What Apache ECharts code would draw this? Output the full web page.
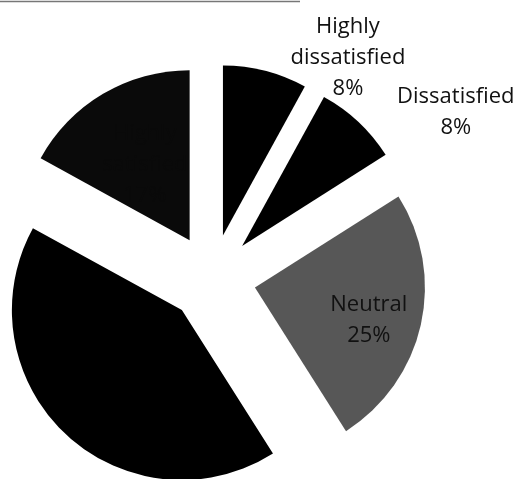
<!DOCTYPE html>
<html lang="en">
<head>
	<meta charset="UTF-8">
	<title>Satisfaction pie</title>
	<script src="https://cdn.jsdelivr.net/npm/echarts@6/dist/echarts.min.js"></script>
	<style>
		html, body { margin: 0; padding: 0; background: #fff; }
	</style>
</head>
<body>
	<div id="pie" style="width: 521px;height: 479px;"></div>
	<script>
		// slice names and shares, clockwise from 12 o'clock
		var categories = ['Highly dissatisfied', 'Dissatisfied', 'Neutral', 'Satisfied', 'Highly satisfied'];
		var shares = [8, 8, 25, 42, 17];
		var sliceColors = ['#000', '#000', '#575757', '#000', '#0a0a0a'];

		// labels that were nudged by hand in the original
		var outsideLabels = ['Highly dissatisfied', 'Dissatisfied'];
		var labelNudge = {
			'Highly dissatisfied': [44, 2],
			'Dissatisfied': [52, 1],
			'Neutral': [28, 13]
		};

		var data = categories.map(function (name, i) {
			var item = {
				name: name,
				value: shares[i],
				selected: true,
				itemStyle: { color: sliceColors[i] }
			};
			if (outsideLabels.indexOf(name) >= 0) {
				item.label = { position: 'outside' };
			} else if (!labelNudge[name]) {
				// black text on a black slice: there but not seen
				item.label = { color: sliceColors[i] };
			}
			return item;
		});

		var option = {
			animation: false,
			backgroundColor: '#fff',
			graphic: [{
				type: 'line',
				shape: { x1: 0, y1: 1.5, x2: 300, y2: 1.5 },
				style: { stroke: '#777', lineWidth: 1.5 }
			}],
			series: [{
				type: 'pie',
				center: [212, 278],
				radius: 170,
				startAngle: 90,
				clockwise: true,
				selectedMode: 'multiple',
				selectedOffset: 44,
				avoidLabelOverlap: false,
				emphasis: { disabled: true },
				label: {
					position: 'inside',
					fontFamily: 'Open Sans',
					fontSize: 22,
					lineHeight: 31,
					color: '#111',
					textBorderWidth: 0,
					align: 'center',
					formatter: function (p) {
						return p.name.replace(' ', '\n') + '\n' + p.value + '%';
					}
				},
				labelLine: { show: false },
				labelLayout: function (p) {
					var n = labelNudge[categories[p.dataIndex]];
					if (!n) return {};
					return { dx: n[0], dy: n[1], align: 'center' };
				},
				data: data
			}]
		};

		var myChart = echarts.init(document.getElementById('pie'));
		myChart.setOption(option);
	</script>
</body>
</html>
